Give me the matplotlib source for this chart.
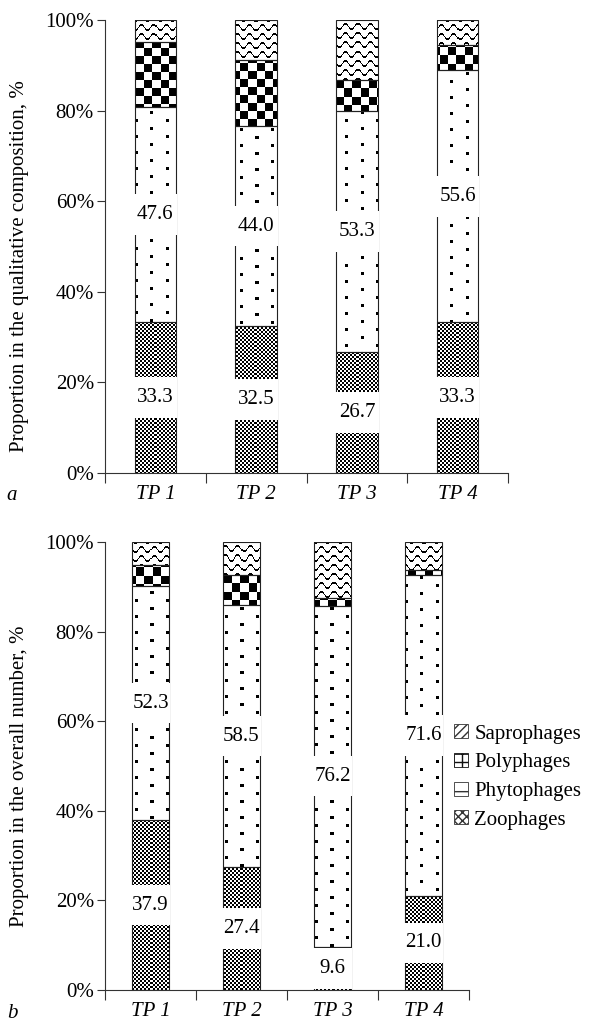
import numpy as np
import matplotlib
matplotlib.use('Agg')
import matplotlib.pyplot as plt
from matplotlib.patches import Patch

plt.rcParams['font.family'] = ['Liberation Serif', 'DejaVu Serif']
plt.rcParams['font.size'] = 15

sites = ['TP 1', 'TP 2', 'TP 3', 'TP 4']
groups = ['Zoophages', 'Phytophages', 'Polyphages', 'Saprophages']

# a: share in the qualitative composition, %
qual_zoo = [33.3, 32.5, 26.7, 33.3]
qual_phyto = [47.6, 44.0, 53.3, 55.6]
qual_poly = [14.3, 14.7, 6.7, 5.6]
qual_sapro = [4.8, 8.8, 13.3, 5.5]

# b: share in the overall number, %
num_zoo = [37.9, 27.4, 9.6, 21.0]
num_phyto = [52.3, 58.5, 76.2, 71.6]
num_poly = [4.7, 6.7, 1.7, 1.2]
num_sapro = [5.1, 7.4, 12.5, 6.2]

W, H, DPI = 603, 1028, 100
BAR_W = 0.41


def tex_zoo(X, Y):
    return ((X // 2 + Y // 2) % 2).astype(float)


def tex_poly(X, Y):
    return ((X // 8 + Y // 8) % 2).astype(float)


def tex_phyto(X, Y):
    col = X // 15
    xr = X % 15
    yr = (Y + 8 * (col % 2)) % 16
    return 1.0 - ((xr < 3) & (yr < 3)).astype(float)


def tex_sapro(X, Y):
    yw = 2.6 * np.sin(2 * np.pi * X / 12.0)
    d = (Y - yw) % 9
    return 1.0 - (np.minimum(d, 9 - d) < 0.9).astype(float)


textures = [tex_zoo, tex_phyto, tex_poly, tex_sapro]


def fill_texture(ax, rect, func):
    x0, y0 = rect.get_x(), rect.get_y()
    w, h = rect.get_width(), rect.get_height()
    if h <= 0:
        return
    (px0, py0), (px1, py1) = ax.transData.transform([(x0, y0), (x0 + w, y0 + h)])
    nw = max(int(round(px1 - px0)), 1)
    nh = max(int(round(py1 - py0)), 1)
    top = int(round(H - py1))
    left = int(round(px0))
    X, Y = np.meshgrid(np.arange(left, left + nw), np.arange(top, top + nh))
    ax.imshow(func(X, Y), extent=(x0, x0 + w, y0, y0 + h), origin='upper',
              cmap='gray', vmin=0, vmax=1, interpolation='nearest',
              aspect='auto', zorder=2)


def draw_panel(ax, series, letter, ylabel, ylab_y):
    x = np.arange(len(sites))
    ax.set_xlim(-0.5, len(sites) - 0.5)
    ax.set_ylim(0, 100)
    bottom = np.zeros(len(sites))
    for vals, func in zip(series, textures):
        vals = np.array(vals)
        bars = ax.bar(x, vals, BAR_W, bottom=bottom, facecolor='none',
                      edgecolor='#222222', linewidth=0.8, zorder=3)
        for r in bars:
            fill_texture(ax, r, func)
        bottom = bottom + vals
    # value labels for zoophages and phytophages
    bottom = np.zeros(len(sites))
    box_h = 9.0
    for vals in series[:2]:
        vals = np.array(vals)
        mid = bottom + vals / 2
        ax.bar(x, box_h, BAR_W + 0.02, bottom=mid - box_h / 2, color='white',
               linewidth=0, zorder=4)
        for xi, m, v in zip(x, mid, vals):
            ax.text(xi, m, f'{v:.1f}', ha='center', va='center', zorder=5)
        bottom = bottom + vals
    ax.set_xlim(-0.5, len(sites) - 0.5)
    ax.set_ylim(0, 100)

    ax.spines['top'].set_visible(False)
    ax.spines['right'].set_visible(False)
    ax.spines['left'].set_color('#333333')
    ax.spines['bottom'].set_color('#333333')
    ax.set_yticks(np.arange(0, 101, 20))
    ax.set_yticklabels([f'{v}%' for v in range(0, 101, 20)])
    ax.tick_params(axis='y', length=6, pad=2, color='#333333')
    ax.set_xticks(np.arange(-0.5, len(sites), 1.0))
    ax.set_xticklabels([])
    ax.tick_params(axis='x', which='major', length=7, color='#333333')
    ax.set_xticks(x, minor=True)
    ax.set_xticklabels(sites, minor=True, fontstyle='italic')
    ax.tick_params(axis='x', which='minor', length=0, pad=9)

    fig = ax.figure
    fig.text(20 / W, 1 - ylab_y / H, ylabel, rotation=90, ha='center', va='center')
    xy = ax.transAxes.transform((0, 0))
    fig.text(12 / W, (xy[1] - 23) / H, letter, fontstyle='italic',
             ha='center', va='center')


fig = plt.figure(figsize=(W / DPI, H / DPI), dpi=DPI)
ax1 = fig.add_axes([105 / W, 1 - 473 / H, 403 / W, 453 / H])
ax2 = fig.add_axes([105 / W, 1 - 990 / H, 364 / W, 448 / H])

draw_panel(ax1, [qual_zoo, qual_phyto, qual_poly, qual_sapro], 'a',
           'Proportion in the qualitative composition, %', 266)
draw_panel(ax2, [num_zoo, num_phyto, num_poly, num_sapro], 'b',
           'Proportion in the overall number, %', 776)

handles = [
    Patch(facecolor='white', edgecolor='#333333', hatch='////', lw=0.6),
    Patch(facecolor='white', edgecolor='#111111', hatch='++', lw=0.6),
    Patch(facecolor='white', edgecolor='#333333', hatch='-', lw=0.6),
    Patch(facecolor='white', edgecolor='#333333', hatch='xxxx', lw=0.6),
]
fig.legend(handles, groups[::-1], loc='upper left',
           bbox_to_anchor=(446 / W, 1 - 716 / H), frameon=False,
           handlelength=0.65, handleheight=0.65, handletextpad=0.3,
           labelspacing=0.45, borderaxespad=0)

fig.savefig('out.png', dpi=DPI)
